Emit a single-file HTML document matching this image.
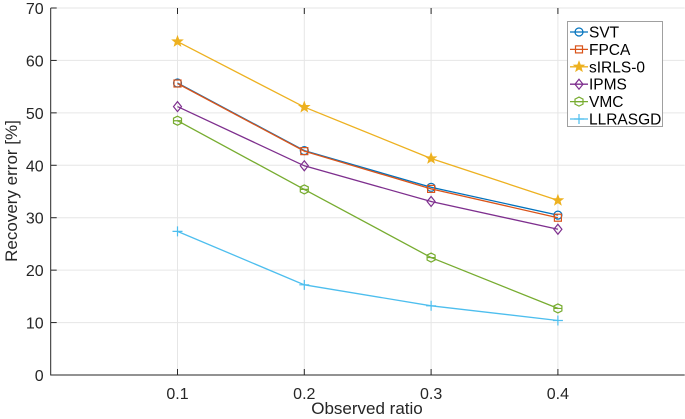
<!DOCTYPE html>
<html><head><meta charset="utf-8"><style>
body{margin:0;background:#fff;}
svg{font-family:"Liberation Sans",sans-serif;display:block;}
</style></head><body>
<svg id="chart" width="685" height="419" viewBox="0 0 685 419" xmlns="http://www.w3.org/2000/svg">
<g id="grid"></g>
<g id="axes"></g>
<g id="series"></g>
<text x="367" y="414" font-size="17" text-anchor="middle" fill="#262626">Observed ratio</text>
<text transform="translate(17,191) rotate(-90)" font-size="17" text-anchor="middle" fill="#262626">Recovery error [%]</text>
<g id="legend"></g>
</svg>
<script>
const categories=[0.1,0.2,0.3,0.4];
const xTicks=[0.1,0.2,0.3,0.4];
const yTicks=[0,10,20,30,40,50,60,70];
const seriesNames=["SVT","FPCA","sIRLS-0","IPMS","VMC","LLRASGD"];
const svtVals=[55.7,42.8,35.8,30.5];
const fpcaVals=[55.6,42.7,35.5,30.0];
const sirlsVals=[63.6,51.1,41.3,33.3];
const ipmsVals=[51.2,39.9,33.1,27.8];
const vmcVals=[48.5,35.4,22.4,12.7];
const llrVals=[27.4,17.2,13.2,10.4];
const colors=["#0072BD","#D95319","#EDB120","#7E2F8E","#77AC30","#4DBEEE"];
const markers=["o","s","star","d","hex","plus"];
const allVals=[svtVals,fpcaVals,sirlsVals,ipmsVals,vmcVals,llrVals];

const X0=50.7,X1=684.7,Y0=375,Y1=8;
const xs=v=>X0+(v-0)/(0.5)*(X1-X0);
const ys=v=>Y0-(v/70)*(Y0-Y1);
const NS="http://www.w3.org/2000/svg";
function mk(tag,attrs,parent){const e=document.createElementNS(NS,tag);for(const k in attrs)e.setAttribute(k,attrs[k]);parent.appendChild(e);return e;}
const grid=document.getElementById('grid'),axes=document.getElementById('axes'),ser=document.getElementById('series'),leg=document.getElementById('legend');

yTicks.forEach(t=>{
  const y=ys(t);
  if(t>0){const g=mk('line',{x1:X0,x2:X1,y1:y,y2:y,stroke:'#e6e6e6','stroke-width':1},grid);
  
  }
  const tk=mk('line',{x1:X0,x2:X0+6,y1:y,y2:y,stroke:'#262626'},axes);
  
  
  const tx=mk('text',{x:X0-7,y:y+6,'font-size':16,'text-anchor':'end',fill:'#262626'},axes);
  tx.textContent=t;
  
  
});
xTicks.forEach(t=>{
  const x=xs(t);
  const g=mk('line',{x1:x,x2:x,y1:Y1,y2:Y0,stroke:'#e6e6e6','stroke-width':1},grid);
  
  
  const tk=mk('line',{x1:x,x2:x,y1:Y0,y2:Y0-6,stroke:'#262626'},axes);
  
  
  const tk2=mk('line',{x1:x,x2:x,y1:Y1,y2:Y1+6,stroke:'#262626'},axes);
  
  
  const tx=mk('text',{x:x,y:Y0+24,'font-size':16,'text-anchor':'middle',fill:'#262626'},axes);
  tx.textContent=t.toFixed(1);
  
  
});
const ax=mk('path',{d:`M${X0},${Y1} L${X0},${Y0} L${X1},${Y0}`,fill:'none',stroke:'#262626','stroke-width':1},axes);



function marker(type,x,y,c,parent){
  let e;
  if(type==='o')e=mk('circle',{cx:x,cy:y,r:4,fill:'none',stroke:c,'stroke-width':1.2},parent);
  else if(type==='s')e=mk('rect',{x:x-3.5,y:y-3.5,width:7,height:7,fill:'none',stroke:c,'stroke-width':1.2},parent);
  else if(type==='d')e=mk('path',{d:`M${x},${y-5} L${x+4},${y} L${x},${y+5} L${x-4},${y} Z`,fill:'none',stroke:c,'stroke-width':1.2},parent);
  else if(type==='plus')e=mk('path',{d:`M${x-5},${y} H${x+5} M${x},${y-5} V${y+5}`,stroke:c,'stroke-width':1.2},parent);
  else if(type==='hex')e=mk('path',{d:`M${x-4},${y-2.5} L${x},${y-4.5} L${x+4},${y-2.5} L${x+4},${y+2.5} L${x},${y+4.5} L${x-4},${y+2.5} Z M${x-4},${y} H${x+4}`,fill:'none',stroke:c,'stroke-width':1.2},parent);
  else {let p='';for(let i=0;i<10;i++){const r=i%2?2.3:5.5;const a=-Math.PI/2+i*Math.PI/5;p+=(i?'L':'M')+(x+r*Math.cos(a)).toFixed(2)+','+(y+r*Math.sin(a)).toFixed(2);}
    e=mk('path',{d:p+'Z',fill:c,stroke:c,'stroke-width':0.8},parent);}
  return e;
}
allVals.forEach((vals,si)=>{
  const c=colors[si];
  const g=mk('g',{},ser);
  
  
  const pl=mk('polyline',{points:vals.map((v,i)=>xs(categories[i])+','+ys(v)).join(' '),fill:'none',stroke:c,'stroke-width':1.3},g);
  
  
  vals.forEach((v,i)=>{const m=marker(markers[si],xs(categories[i]),ys(v),c,g);
    
    });
});
const lb=mk('rect',{x:567.5,y:21.5,width:95,height:105,fill:'#fff',stroke:'#a0a0a0','stroke-width':1},leg);


seriesNames.forEach((n,i)=>{
  const y=32+i*17.4,c=colors[i];
  const g=mk('g',{},leg);
  
  
  mk('line',{x1:570,x2:588,y1:y,y2:y,stroke:c,'stroke-width':1.3},g);
  marker(markers[i],579,y,c,g);
  const t=mk('text',{x:589,y:y+5.5,'font-size':15.5,fill:'#000'},g);
  t.textContent=n;
});
</script>
</body></html>
